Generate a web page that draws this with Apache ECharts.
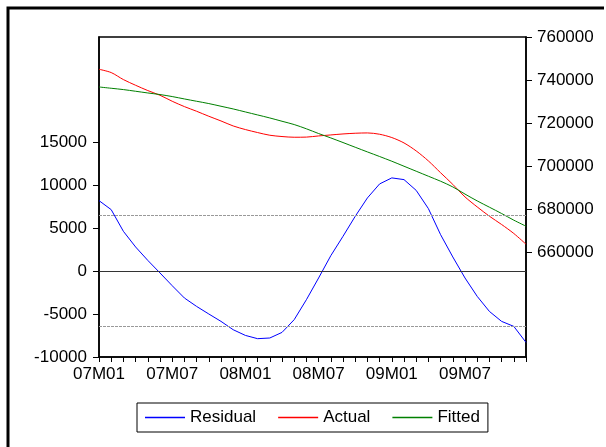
<!DOCTYPE html>
<html>
<head>
<meta charset="utf-8">
<script src="https://cdn.jsdelivr.net/npm/echarts@6/dist/echarts.min.js"></script>
<style>
    html, body { margin: 0; padding: 0; background: #fff; }
    #chart { width: 606px; height: 447px; }
</style>
</head>
<body>
<div id="chart"></div>
<script>
var months = [
    '07M01', '07M02', '07M03', '07M04', '07M05', '07M06', '07M07', '07M08', '07M09', '07M10', '07M11', '07M12',
    '08M01', '08M02', '08M03', '08M04', '08M05', '08M06', '08M07', '08M08', '08M09', '08M10', '08M11', '08M12',
    '09M01', '09M02', '09M03', '09M04', '09M05', '09M06', '09M07', '09M08', '09M09', '09M10', '09M11', '09M12'
];

// residual (left axis)
var residual = [
    8180, 7130, 4610, 2790, 1230, -230, -1710, -3140, -4120, -5000, -5860, -6830,
    -7490, -7870, -7790, -7140, -5660, -3340, -815, 1780, 4030, 6350, 8490, 10120,
    10820, 10620, 9370, 7250, 4220, 1630, -815, -2950, -4700, -5860, -6440, -8300
];

// actual and fitted (right axis)
var actual = [
    745020, 743490, 740240, 737600, 735140, 732960, 730180, 727700, 725540, 723220, 721040, 718720,
    717050, 715660, 714410, 713810, 713480, 713550, 714090, 714550, 715010, 715340, 715480, 714870,
    713340, 710840, 707130, 702490, 697000, 691600, 685790, 681150, 676840, 672990, 668820, 663850
];
var fitted = [
    736810, 736210, 735600, 734820, 734030, 733290, 732360, 731250, 730180, 729110, 727860, 726610,
    725220, 723830, 722430, 720900, 719370, 717400, 715200, 713160, 711020, 708840, 706670, 704540,
    702350, 700030, 697710, 695390, 693070, 690430, 687100, 683940, 681020, 678090, 675000, 672200
];

var seBand = 6430;
var leftTicks = [-10000, -5000, 0, 5000, 10000, 15000];
var rightTicks = [660000, 680000, 700000, 720000, 740000, 760000];

var font = 'Liberation Sans, Arial, sans-serif';
var fs = 17;
var chart = echarts.init(document.getElementById('chart'), null, {renderer: 'canvas'});

function plain(v) {
    return String(v);
}

chart.setOption({
    animation: false,
    backgroundColor: '#fff',
    textStyle: {fontFamily: font},
    graphic: [{
        type: 'polyline',
        shape: {points: [[8, 447], [8, 8], [604, 8]]},
        style: {stroke: '#000', lineWidth: 3, fill: null}
    }],
    grid: {
        left: 99,
        right: 80,
        top: 37,
        bottom: 90,
        show: true,
        borderColor: '#000',
        borderWidth: 1.5
    },
    legend: {
        left: 137,
        top: 403,
        data: ['Residual', 'Actual', 'Fitted'],
        icon: 'rect',
        itemWidth: 40,
        itemHeight: 1.5,
        itemGap: 22,
        padding: [6, 8, 6, 8],
        borderColor: '#000',
        borderWidth: 1,
        textStyle: {fontSize: fs, color: '#000', fontFamily: font}
    },
    xAxis: {
        type: 'category',
        data: months,
        boundaryGap: false,
        axisLine: {onZero: false, lineStyle: {color: '#000', width: 1.5}},
        axisTick: {interval: 0, length: 5, lineStyle: {color: '#000'}},
        axisLabel: {interval: 5, color: '#000', fontSize: fs, margin: 9, fontFamily: font},
        splitLine: {show: false}
    },
    yAxis: [{
        type: 'value',
        position: 'left',
        min: -10000,
        max: 27200,
        interval: 5000,
        axisLine: {show: true, onZero: false, lineStyle: {color: '#000', width: 1.5}},
        axisTick: {show: true, length: 6, customValues: leftTicks, lineStyle: {color: '#000'}},
        axisLabel: {customValues: leftTicks, formatter: plain, color: '#000', fontSize: fs, margin: 12, fontFamily: font},
        splitLine: {show: false}
    }, {
        type: 'value',
        position: 'right',
        min: 611500,
        max: 760000,
        interval: 20000,
        axisLine: {show: true, onZero: false, lineStyle: {color: '#000', width: 1.5}},
        axisTick: {show: true, length: 6, customValues: rightTicks, lineStyle: {color: '#000'}},
        axisLabel: {customValues: rightTicks, formatter: plain, color: '#000', fontSize: fs, margin: 11, fontFamily: font},
        splitLine: {show: false}
    }],
    series: [{
        name: 'Residual',
        type: 'line',
        yAxisIndex: 0,
        data: residual,
        showSymbol: false,
        color: '#0000ff',
        lineStyle: {color: '#0000ff', width: 1},
        markLine: {
            silent: true,
            symbol: 'none',
            label: {show: false},
            data: [
                {yAxis: 0, lineStyle: {color: '#333', type: 'solid', width: 1.2}},
                {yAxis: seBand, lineStyle: {color: '#999', type: [3, 1], width: 1}},
                {yAxis: -seBand, lineStyle: {color: '#999', type: [3, 1], width: 1}}
            ]
        }
    }, {
        name: 'Actual',
        type: 'line',
        yAxisIndex: 1,
        data: actual,
        showSymbol: false,
        smooth: 0.3,
        color: '#ff0000',
        lineStyle: {color: '#ff0000', width: 1}
    }, {
        name: 'Fitted',
        type: 'line',
        yAxisIndex: 1,
        data: fitted,
        showSymbol: false,
        smooth: 0.3,
        color: '#008000',
        lineStyle: {color: '#008000', width: 1}
    }]
});
</script>
</body>
</html>
